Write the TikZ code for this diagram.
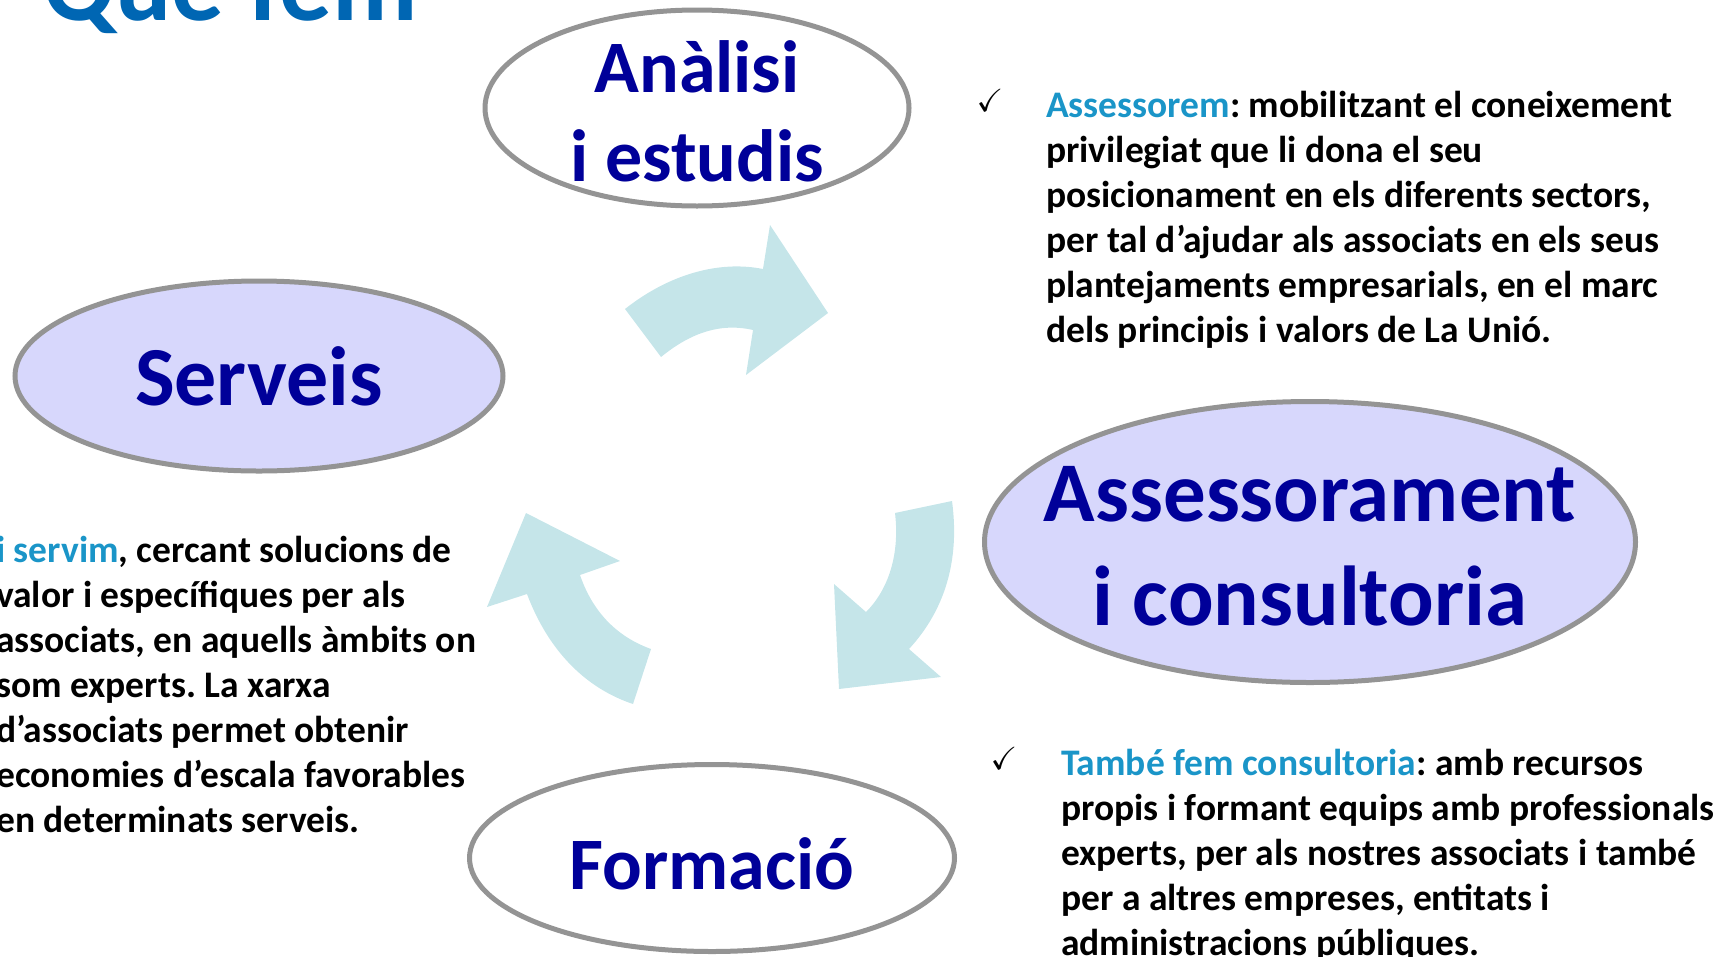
\documentclass[tikz,border=0pt]{standalone}
\usepackage{fontspec}
\usepackage{amssymb}
\setmainfont{Carlito}
\usetikzlibrary{shapes.geometric}
\definecolor{navy}{HTML}{000099}
\definecolor{lilac}{HTML}{D7D7FC}
\definecolor{rim}{HTML}{949494}
\definecolor{pale}{HTML}{C5E5E9}
\definecolor{hl}{HTML}{1A95C8}
\definecolor{titleblue}{HTML}{0066B3}
\frenchspacing
\begin{document}
\begin{tikzpicture}[x=1pt,y=-1pt]
		\tikzstyle{bubble} = [draw=rim, line width=5pt, ellipse, inner sep=0pt]
		\tikzstyle{caption} = [inner sep=0pt, text=navy, align=center]
		\tikzstyle{blurb} = [inner sep=0pt, anchor=base west, align=flush left, text width=700pt, font={\fontsize{37.5}{45}\selectfont\bfseries}]
		\tikzstyle{tick} = [inner sep=0pt, anchor=base, font={\fontsize{32}{32}\selectfont}]
		\useasboundingbox (0,0) rectangle (1724,956);
		\clip (0,0) rectangle (1724,956);

		\node[inner sep=0pt, anchor=base west, text=titleblue, font={\fontsize{105}{105}\selectfont\bfseries}] (title) at (43,20) {Què fem};

		\node[bubble, fill=white, minimum width=424pt, minimum height=196pt] (analisi) at (697,108) {};
		\node[caption, font={\fontsize{74}{89}\selectfont\bfseries}] (analisi-txt) at ([yshift=-3pt]analisi.center) {Anàlisi\\i estudis};
		\node[bubble, fill=lilac, minimum width=488pt, minimum height=190pt] (serveis) at (259,376) {};
		\node[caption, font={\fontsize{84}{96}\selectfont\bfseries}] (serveis-txt) at (serveis.center) {Serveis};
		\node[bubble, fill=lilac, minimum width=651pt, minimum height=281pt] (assess) at (1310,542) {};
		\node[caption, font={\fontsize{85}{104}\selectfont\bfseries}] (assess-txt) at ([yshift=-4pt]assess.center) {Assessorament\\i consultoria};
		\node[bubble, fill=white, minimum width=485pt, minimum height=187pt] (formacio) at (712,858) {};
		\node[caption, font={\fontsize{74}{89}\selectfont\bfseries}] (formacio-txt) at ([yshift=-6pt]formacio.center) {Formació};

		\fill[pale] (625,309) .. controls (668,275) and (718,260) .. (763,269) -- (770,225) -- (828,313) -- (746,375) -- (753,330) .. controls (718,322) and (688,335) .. (661,357) -- cycle;
		\fill[pale] (952,501) -- (895,513) .. controls (900,555) and (888,590) .. (866,612) -- (834,584) -- (839,689) -- (941,677) -- (909,649) .. controls (945,610) and (960,560) .. (952,501) -- cycle;
		\fill[pale] (651,649) .. controls (615,636) and (592,610) .. (580,575) -- (620,561) -- (526,513) -- (487,607) -- (527,594) .. controls (548,650) and (585,688) .. (633,704) -- cycle;

		\node[tick] (tick1) at (990,111) {$\checkmark$};
		\node[blurb] (assessorem) at (1046,117) {\textcolor{hl}{Assessorem}: mobilitzant el coneixement\\privilegiat que li dona el seu\\posicionament en els diferents sectors,\\per tal d’ajudar als associats en els seus\\plantejaments empresarials, en el marc\\dels principis i valors de La Unió.};
		\node[tick] (tick2) at (1004,769) {$\checkmark$};
		\node[blurb] (consultoria) at (1061,775) {\textcolor{hl}{També fem consultoria}: amb recursos\\propis i formant equips amb professionals\\experts, per als nostres associats i també\\per a altres empreses, entitats i\\administracions públiques.};
		\node[blurb] (servim) at (-4,562) {\textcolor{hl}{i servim}, cercant solucions de\\valor i específiques per als\\associats, en aquells àmbits on\\som experts. La xarxa\\d’associats permet obtenir\\economies d’escala favorables\\en determinats serveis.};
	\end{tikzpicture}
\end{document}
